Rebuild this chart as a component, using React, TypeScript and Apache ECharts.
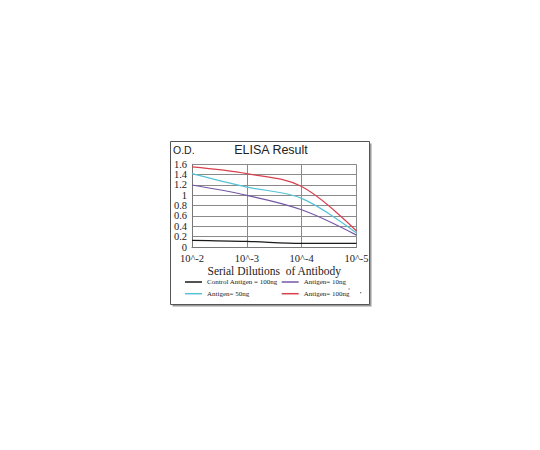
import React, { useEffect, useRef } from "react";
import * as echarts from "echarts";

const categories = ["10^-2", "10^-3", "10^-4", "10^-5"];
const control100 = [0.13, 0.11, 0.07, 0.07];
const antigen10 = [1.2, 1.0, 0.72, 0.23];
const antigen50 = [1.42, 1.16, 0.94, 0.27];
const antigen100 = [1.55, 1.42, 1.17, 0.31];
const seriesNames = [
  "Control Antigen = 100ng",
  "Antigen= 10ng",
  "Antigen= 50ng",
  "Antigen= 100ng",
];
const colors = ["#1a1a1a", "#7458a4", "#55c3d6", "#d8404e"];

export default function App() {
  const ref = useRef<HTMLDivElement>(null);
  useEffect(() => {
    const chart = echarts.init(ref.current!, null, { renderer: "svg" });
    const values = [control100, antigen10, antigen50, antigen100];
    const serif = "Liberation Serif";
    const legendText = { fontFamily: serif, fontSize: 7, color: "#222", lineHeight: 8 };
    const fmt = (even: boolean) => (v: number) => {
      const k = Math.round(v * 5);
      if ((k % 2 === 0) !== even) return "";
      return String(Math.round(v * 10) / 10);
    };
    const yBase = {
      type: "value",
      min: 0,
      max: 1.6,
      interval: 0.2,
      position: "left",
      axisTick: { show: false },
    };
    const yLabel = {
      fontFamily: serif,
      fontSize: 10.5,
      color: "#222",
      margin: 5,
      showMinLabel: true,
      showMaxLabel: true,
    };
    chart.setOption({
      animation: false,
      backgroundColor: "#ffffff",
      grid: { left: 192, top: 164.3, width: 164.5, height: 82.7, containLabel: false },
      xAxis: {
        type: "category",
        data: categories,
        boundaryGap: false,
        axisLine: { show: true, lineStyle: { color: "#777", width: 1 } },
        axisTick: { show: false },
        splitLine: { show: true, lineStyle: { color: "#8a8a8a", width: 1 } },
        axisLabel: {
          fontFamily: serif,
          fontSize: 10.5,
          color: "#222",
          margin: 6,
          showMinLabel: true,
          showMaxLabel: true,
        },
        name: "Serial Dilutions  of Antibody",
        nameLocation: "middle",
        nameGap: 18,
        nameTextStyle: { fontFamily: serif, fontSize: 11.5, color: "#222" },
      },
      yAxis: [
        {
          ...yBase,
          axisLine: { show: true, lineStyle: { color: "#777", width: 1 } },
          splitLine: { show: true, lineStyle: { color: "#8a8a8a", width: 1 } },
          axisLabel: { ...yLabel, formatter: fmt(true) },
        },
        {
          ...yBase,
          axisLine: { show: false },
          splitLine: { show: false },
          axisLabel: { ...yLabel, formatter: fmt(false) },
        },
      ],
      legend: [
        {
          orient: "vertical",
          left: 185,
          top: 278,
          itemWidth: 17,
          itemHeight: 1.5,
          itemGap: 3.7,
          itemTextGap: 3,
          icon: "rect",
          data: [seriesNames[0], seriesNames[2]],
          textStyle: legendText,
          padding: 0,
        },
        {
          orient: "vertical",
          left: 281.7,
          top: 278,
          itemWidth: 17,
          itemHeight: 1.5,
          itemGap: 3.7,
          itemTextGap: 3,
          icon: "rect",
          data: [seriesNames[1], seriesNames[3]],
          textStyle: legendText,
          padding: 0,
        },
      ],
      graphic: [
        {
          type: "rect",
          z: -2,
          shape: { x: 172.5, y: 143.5, width: 199, height: 163 },
          style: { fill: "#9a9a9a" },
          silent: true,
        },
        {
          type: "rect",
          z: -1,
          shape: { x: 170.5, y: 141.5, width: 199, height: 163 },
          style: { fill: "#ffffff", stroke: "#555", lineWidth: 1 },
          silent: true,
        },
        {
          type: "text",
          x: 173,
          y: 150,
          style: {
            text: "O.D.",
            fontFamily: "Liberation Sans",
            fontSize: 10.5,
            fill: "#222",
            verticalAlign: "middle",
          },
        },
        {
          type: "text",
          x: 271,
          y: 150,
          style: {
            text: "ELISA Result",
            fontFamily: "Liberation Sans",
            fontSize: 12.5,
            fill: "#222",
            align: "center",
            verticalAlign: "middle",
          },
        },
        {
          type: "circle",
          shape: { cx: 349, cy: 289, r: 0.7 },
          style: { fill: "#777" },
        },
        {
          type: "circle",
          shape: { cx: 360.7, cy: 292.7, r: 0.7 },
          style: { fill: "#777" },
        },
      ],
      series: values.map((d, i) => ({
        name: seriesNames[i],
        type: "line",
        data: d,
        yAxisIndex: 0,
        smooth: 0.35,
        symbol: "none",
        lineStyle: { color: colors[i], width: 1.2 },
        itemStyle: { color: colors[i] },
      })),
    });
    return () => chart.dispose();
  }, []);
  return (
    <div
      ref={ref}
      style={{ position: "absolute", left: 0, top: 0, width: 540, height: 450 }}
    />
  );
}
